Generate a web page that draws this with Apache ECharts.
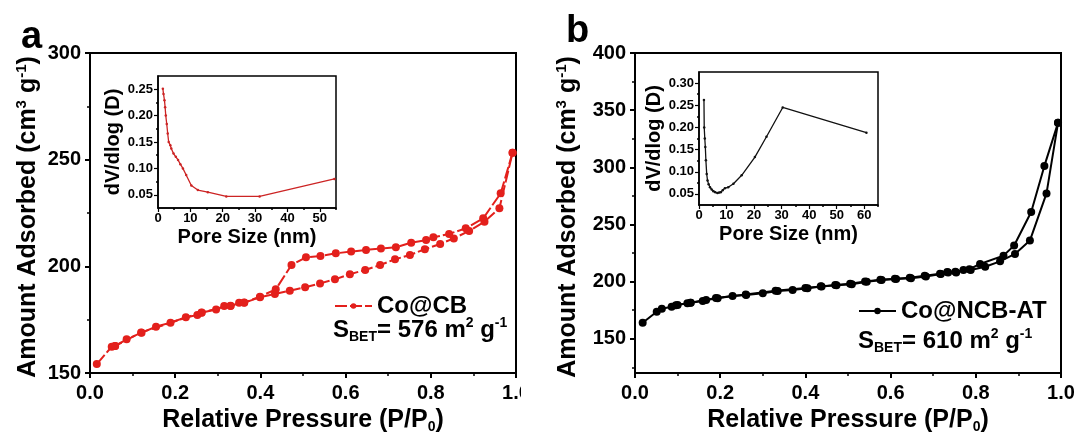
<!DOCTYPE html>
<html>
<head>
<meta charset="utf-8">
<script src="https://cdn.jsdelivr.net/npm/echarts@6/dist/echarts.min.js"></script>
<style>
html,body{margin:0;padding:0;background:#fff;}
#main{width:1080px;height:437px;}
</style>
</head>
<body>
<div id="main"></div>
<script>
// panel a : Co@CB isotherm
var adsA_p = [0.016,0.051,0.059,0.086,0.121,0.155,0.189,0.225,0.252,0.262,0.296,0.315,0.33,0.35,0.362,0.399,0.434,0.469,0.505,0.54,0.575,0.61,0.646,0.681,0.716,0.751,0.786,0.822,0.854,0.89,0.926,0.961,0.992];
var adsA_v = [154.2,162.3,162.6,165.8,168.9,171.7,173.6,176.1,177.2,178.3,179.8,181.4,181.4,182.9,182.9,185.5,187.0,188.6,190.2,192.0,193.9,196.3,198.3,200.6,203.3,205.3,208.0,210.5,213.1,216.6,220.9,227.2,253.3];
var desA_p = [0.992,0.964,0.923,0.882,0.843,0.806,0.789,0.754,0.718,0.683,0.648,0.613,0.577,0.541,0.507,0.473,0.436,0.399,0.362,0.33,0.262,0.12,0.059];
var desA_v = [253.3,234.2,222.5,217.8,215.2,213.6,212.3,211.1,208.9,208.4,207.7,206.9,206.1,204.8,204.2,200.6,189.2,185.8,183.0,181.5,178.4,169.0,162.7];
// inset a : pore size distribution
var poreA_d = [1.5,1.7,2.0,2.2,2.4,2.7,3.0,3.3,3.8,4.1,4.8,5.5,6.2,6.9,7.7,8.7,10.3,12.3,15.4,21.1,31.4,54.5];
var poreA_v = [0.251,0.241,0.229,0.216,0.20,0.184,0.166,0.15,0.144,0.1375,0.128,0.122,0.116,0.108,0.10,0.0875,0.0675,0.059,0.055,0.047,0.047,0.08];

// panel b : Co@NCB-AT isotherm
var adsB_p = [0.018,0.051,0.063,0.086,0.096,0.123,0.131,0.159,0.167,0.194,0.229,0.261,0.3,0.335,0.37,0.405,0.438,0.473,0.509,0.544,0.579,0.613,0.648,0.683,0.718,0.735,0.754,0.771,0.788,0.822,0.857,0.892,0.927,0.966,0.993];
var adsB_v = [163.9,173.6,176.3,178.0,179.2,181.0,181.5,183.0,183.9,185.4,187.4,188.3,189.8,191.8,192.7,194.2,195.6,196.8,197.7,199.8,201.3,202.2,203.0,204.5,206.6,208.0,208.0,210.1,210.1,213.0,217.7,224.2,235.9,277.1,338.9];
var desB_p = [0.993,0.961,0.93,0.89,0.865,0.81,0.785,0.752,0.733,0.716,0.68,0.645,0.61,0.576,0.54,0.505,0.47,0.436,0.40,0.33,0.26,0.19,0.13,0.10];
var desB_v = [338.9,301.2,260.9,231.5,222.7,215.4,210.8,208.6,208.3,206.8,205.0,203.4,202.5,201.5,200.1,198.0,197.0,195.8,194.4,192.0,188.6,185.7,181.5,179.6];
// inset b
var poreB_d = [1.8,1.9,2.1,2.3,2.5,2.8,3.1,3.5,4.0,4.6,5.2,5.9,6.7,7.3,7.9,8.6,9.4,10.6,12.5,15.5,20.3,24.5,30.4,60.8];
var poreB_v = [0.262,0.20,0.175,0.156,0.126,0.095,0.080,0.072,0.065,0.060,0.056,0.054,0.052,0.053,0.054,0.058,0.063,0.065,0.073,0.092,0.133,0.179,0.245,0.188];

// tick labels
var pTicks = [0,0.2,0.4,0.6,0.8,1.0];
var pMinor = [0.1,0.3,0.5,0.7,0.9];
var vTicksA = [150,200,250,300];
var vMinorA = [175,225,275];
var vTicksB = [150,200,250,300,350,400];
var vMinorB = [125,175,225,275,325,375];
var dTicksA = [0,10,20,30,40,50];
var dMinorA = [5,15,25,35,45,55];
var dTicksB = [0,10,20,30,40,50,60];
var dMinorB = [5,15,25,35,45,55,65];
var yTicksA = [0.05,0.10,0.15,0.20,0.25];
var yMinorA = [0.075,0.125,0.175,0.225];
var yTicksB = [0.05,0.10,0.15,0.20,0.25,0.30];
var yMinorB = [0.075,0.125,0.175,0.225,0.275];

function zip(a, b){
    var out = [];
    for(var i = 0; i < a.length; i++){
        out.push([a[i], b[i]]);
    }
    return out;
}

var FONT = '"Liberation Sans", Arial, sans-serif';
var RED = '#e3201c';

function mainX(grid, ticks, name){
    return {
        type: 'value', gridIndex: grid, min: 0, max: 1, position: 'bottom',
        name: name, nameLocation: 'middle', nameGap: 28,
        nameTextStyle: {fontFamily: FONT, fontWeight: 'bold', fontSize: 25, color: '#000',
            rich: {t: {fontFamily: FONT, fontWeight: 'bold', fontSize: 25, color: '#000', lineHeight: 28},
                   s: {fontFamily: FONT, fontWeight: 'bold', fontSize: 14, color: '#000', lineHeight: 4, verticalAlign: 'bottom'}}},
        axisLine: {show: true, lineStyle: {color: '#000', width: 2}},
        axisTick: {show: true, length: 5, lineStyle: {color: '#000', width: 2}, customValues: ticks},
        axisLabel: {fontFamily: FONT, fontWeight: 'bold', fontSize: 20, color: '#000', margin: 10,
            customValues: ticks, formatter: function(v){ return v.toFixed(1); }},
        splitLine: {show: false}
    };
}
function mainY(grid, min, max, ticks, gap){
    return {
        type: 'value', gridIndex: grid, min: min, max: max, position: 'left',
        name: '{t|Amount Adsorbed (cm}{s|3}{t| g}{s|-1}{t|)}',
        nameLocation: 'middle', nameGap: gap,
        nameTextStyle: {fontFamily: FONT, fontWeight: 'bold', fontSize: 25, color: '#000', padding: [0, 8, 0, 0],
            rich: {t: {fontFamily: FONT, fontWeight: 'bold', fontSize: 25, color: '#000', lineHeight: 29},
                   s: {fontFamily: FONT, fontWeight: 'bold', fontSize: 15, color: '#000', lineHeight: 18, verticalAlign: 'top'}}},
        axisLine: {show: true, lineStyle: {color: '#000', width: 2}},
        axisTick: {show: true, length: 5, lineStyle: {color: '#000', width: 2}, customValues: ticks},
        axisLabel: {fontFamily: FONT, fontWeight: 'bold', fontSize: 20, color: '#000', margin: 9, customValues: ticks},
        splitLine: {show: false}
    };
}
function minorAxis(grid, pos, min, max, ticks, len){
    return {
        type: 'value', gridIndex: grid, min: min, max: max, position: pos,
        axisLine: {show: false},
        axisTick: {show: true, length: len, lineStyle: {color: '#000', width: 1.5}, customValues: ticks},
        axisLabel: {show: false},
        splitLine: {show: false}
    };
}
function insetX(grid, max, ticks){
    return {
        type: 'value', gridIndex: grid, min: 0, max: max, position: 'bottom',
        name: 'Pore Size (nm)', nameLocation: 'middle', nameGap: 19,
        nameTextStyle: {fontFamily: FONT, fontWeight: 'bold', fontSize: 20, color: '#000'},
        axisLine: {show: true, lineStyle: {color: '#000', width: 1.5}},
        axisTick: {show: true, length: 4, lineStyle: {color: '#000', width: 1.2}, customValues: ticks},
        axisLabel: {fontFamily: FONT, fontWeight: 'bold', fontSize: 13, color: '#000', margin: 4, customValues: ticks},
        splitLine: {show: false}
    };
}
function insetY(grid, min, max, ticks){
    return {
        type: 'value', gridIndex: grid, min: min, max: max, position: 'left',
        name: 'dV/dlog (D)', nameLocation: 'middle', nameGap: 31,
        nameTextStyle: {fontFamily: FONT, fontWeight: 'bold', fontSize: 20, color: '#000'},
        axisLine: {show: true, lineStyle: {color: '#000', width: 1.5}},
        axisTick: {show: true, length: 4, lineStyle: {color: '#000', width: 1.2}, customValues: ticks},
        axisLabel: {fontFamily: FONT, fontWeight: 'bold', fontSize: 13, color: '#000', margin: 5,
            customValues: ticks, formatter: function(v){ return v.toFixed(2); }},
        splitLine: {show: false}
    };
}

var myChart = echarts.init(document.getElementById('main'), null, {renderer: 'canvas'});

var xTitle = '{t|Relative Pressure (P/P}{s|0}{t|)}';
var sbetRich = {
    t: {fontFamily: FONT, fontWeight: 'bold', fontSize: 24, fill: '#000', lineHeight: 28},
    s: {fontFamily: FONT, fontWeight: 'bold', fontSize: 14, fill: '#000', lineHeight: 4, verticalAlign: 'bottom'},
    p: {fontFamily: FONT, fontWeight: 'bold', fontSize: 14, fill: '#000', lineHeight: 16, verticalAlign: 'top'}
};

var option = {
    animation: false,
    backgroundColor: '#fff',
    grid: [
        {left: 90, top: 53, width: 426, height: 320, show: true, borderColor: '#000', borderWidth: 2,
         backgroundColor: 'transparent', outerBoundsMode: 'none'},
        {left: 158, top: 76, width: 178, height: 132, show: true, borderColor: '#000', borderWidth: 1.5,
         backgroundColor: '#fff', outerBoundsMode: 'none'},
        {left: 635, top: 53, width: 426, height: 320, show: true, borderColor: '#000', borderWidth: 2,
         backgroundColor: 'transparent', outerBoundsMode: 'none'},
        {left: 699, top: 72, width: 179, height: 133, show: true, borderColor: '#000', borderWidth: 1.5,
         backgroundColor: '#fff', outerBoundsMode: 'none'}
    ],
    xAxis: [
        mainX(0, pTicks, xTitle),
        minorAxis(0, 'bottom', 0, 1, pMinor, 3),
        insetX(1, 55, dTicksA),
        mainX(2, pTicks, xTitle),
        minorAxis(2, 'bottom', 0, 1, pMinor, 3),
        insetX(3, 65, dTicksB),
        minorAxis(1, 'bottom', 0, 55, dMinorA, 2),
        minorAxis(3, 'bottom', 0, 65, dMinorB, 2)
    ],
    yAxis: [
        mainY(0, 150, 300, vTicksA, 47),
        minorAxis(0, 'left', 150, 300, vMinorA, 3),
        insetY(1, 0.025, 0.275, yTicksA),
        mainY(2, 120, 400, vTicksB, 52),
        minorAxis(2, 'left', 120, 400, vMinorB, 3),
        insetY(3, 0.025, 0.325, yTicksB),
        minorAxis(1, 'left', 0.025, 0.275, yMinorA, 2),
        minorAxis(3, 'left', 0.025, 0.325, yMinorB, 2)
    ],
    legend: [
        {data: [{name: 'Co@CB', itemStyle: {color: RED}}], left: 329, top: 289, itemWidth: 37, itemHeight: 7, itemGap: 0,
         textStyle: {fontFamily: FONT, fontWeight: 'bold', fontSize: 24, color: '#000'}},
        {data: ['Co@NCB-AT'], left: 853, top: 294, itemWidth: 37, itemHeight: 8, itemGap: 0,
         textStyle: {fontFamily: FONT, fontWeight: 'bold', fontSize: 24, color: '#000'}}
    ],
    series: [
        {name: 'Co@CB', type: 'line', xAxisIndex: 0, yAxisIndex: 0, data: zip(adsA_p, adsA_v),
         symbol: 'circle', symbolSize: 8, color: RED, lineStyle: {color: RED, width: 2, type: [12, 3]}, itemStyle: {color: RED}},
        {name: 'Co@CB', type: 'line', xAxisIndex: 0, yAxisIndex: 0, data: zip(desA_p, desA_v),
         symbol: 'circle', symbolSize: 8, color: RED, lineStyle: {color: RED, width: 2, type: [12, 3]}, itemStyle: {color: RED}},
        {name: 'poreA', type: 'line', xAxisIndex: 2, yAxisIndex: 2, data: zip(poreA_d, poreA_v),
         symbol: 'circle', symbolSize: 2.5, lineStyle: {color: '#cc2424', width: 1.3}, itemStyle: {color: '#cc2424'}},
        {name: 'Co@NCB-AT', type: 'line', xAxisIndex: 3, yAxisIndex: 3, data: zip(adsB_p, adsB_v),
         symbol: 'circle', symbolSize: 8, color: '#000', lineStyle: {color: '#000', width: 2}, itemStyle: {color: '#000'}},
        {name: 'Co@NCB-AT', type: 'line', xAxisIndex: 3, yAxisIndex: 3, data: zip(desB_p, desB_v),
         symbol: 'circle', symbolSize: 8, color: '#000', lineStyle: {color: '#000', width: 2}, itemStyle: {color: '#000'}},
        {name: 'poreB', type: 'line', xAxisIndex: 5, yAxisIndex: 5, data: zip(poreB_d, poreB_v),
         symbol: 'circle', symbolSize: 2.5, lineStyle: {color: '#111', width: 1.3}, itemStyle: {color: '#111'}}
    ],
    graphic: [
        {type: 'text', left: 21, top: 19, style: {text: 'a', font: 'bold 38px ' + FONT, fill: '#000'}},
        {type: 'text', left: 566, top: 13, style: {text: 'b', font: 'bold 38px ' + FONT, fill: '#000'}},
        // "1.0" of panel a is cut at the figure edge
        {type: 'rect', shape: {x: 521, y: 380, width: 30, height: 26}, style: {fill: '#fff'}, z: 100},
        {type: 'text', left: 333, top: 316, z: 50, style: {text: '{t|S}{s|BET}{t|= 576 m}{p|2}{t| g}{p|-1}', rich: sbetRich}},
        {type: 'text', left: 858, top: 327, z: 50, style: {text: '{t|S}{s|BET}{t|= 610 m}{p|2}{t| g}{p|-1}', rich: sbetRich}}
    ]
};

myChart.setOption(option);
</script>
</body>
</html>
